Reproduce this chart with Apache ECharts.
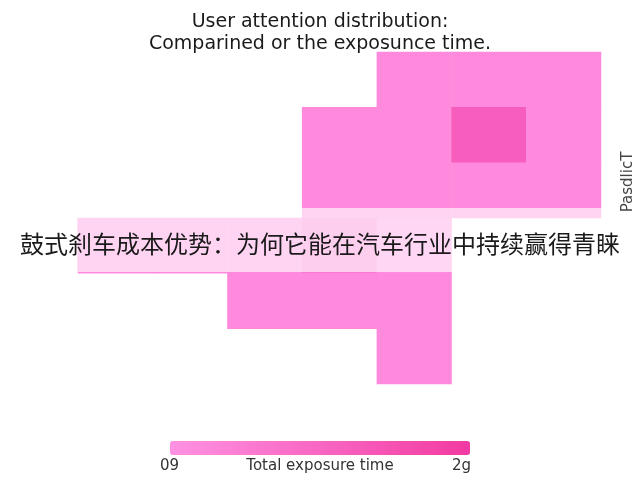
<!DOCTYPE html>
<html>
<head>
<meta charset="utf-8">
<script src="https://cdn.jsdelivr.net/npm/echarts@6/dist/echarts.min.js"></script>
<style>html,body{margin:0;padding:0;background:#fff}#c{width:640px;height:480px}</style>
</head>
<body>
<div id="c"></div>
<script>
const xCategories = ['C1','C2','C3','C4','C5','C6','C7'];
const yCategories = ['R1','R2','R3','R4','R5','R6'];
const row1 = [null, null, null, null, 1, 1, 1];
const row2 = [null, null, null, 1, 1, 6, 1];
const row3 = [null, null, null, 1, 1, 1, 1];
const row4 = [1, 1, 1, 3, 0.5, null, null];
const row5 = [null, null, 1, 1, 1, null, null];
const row6 = [null, null, null, null, 1, null, null];
const rows = [row1, row2, row3, row4, row5, row6];
const scaleMin = 0, scaleMax = 10;
const scaleLabels = ['09', '2g'];
const scaleName = 'Total exposure time';
const sideName = 'PasdlicT';
const titleText = 'User attention distribution:\nComparined or the exposunce time.';
const bannerText = '鼓式刹车成本优势：为何它能在汽车行业中持续赢得青睐';

const data = [];
rows.forEach((r, yi) => r.forEach((v, xi) => { if (v !== null) data.push([xi, yi, v]); }));

const chart = echarts.init(document.getElementById('c'));
chart.setOption({
  backgroundColor: '#fff',
  animation: false,
  title: {
    text: titleText, left: 'center', top: 6,
    textStyle: { fontFamily: 'DejaVu Sans', fontSize: 19, fontWeight: 'normal', color: '#1a1a1a', lineHeight: 22 }
  },
  grid: { left: 78, right: 39, top: 52, bottom: 96 },
  xAxis: { type: 'category', data: xCategories, show: false },
  yAxis: { type: 'category', data: yCategories, inverse: true, show: false },
  visualMap: {
    type: 'continuous', min: scaleMin, max: scaleMax, calculable: false,
    orient: 'horizontal', left: 155, top: 426, itemWidth: 14, itemHeight: 300,
    inRange: { color: ['#ff92e3', '#f23aa2'] },
    textStyle: { color: 'transparent' }
  },
  series: [{
    type: 'heatmap', data: data,
    itemStyle: { borderWidth: 0 },
    emphasis: { disabled: true }
  }],
  graphic: [
    { type: 'rect', z: 100, shape: { x: 78, y: 208, width: 525, height: 64 },
      style: { fill: 'rgba(255,255,255,0.64)' } },
    { type: 'text', z: 101, x: 320, y: 244,
      style: { text: bannerText, align: 'center', verticalAlign: 'middle',
        font: '24px "Noto Sans CJK SC"', fill: '#1a1a1a' } },
    { type: 'text', z: 101, x: 628, y: 182, rotation: Math.PI / 2,
      style: { text: sideName, align: 'center', verticalAlign: 'middle',
        font: '15px "DejaVu Sans"', fill: '#444' } },
    { type: 'text', z: 101, x: 160, y: 466,
      style: { text: scaleLabels[0], align: 'left', verticalAlign: 'middle',
        font: '15px "DejaVu Sans"', fill: '#333' } },
    { type: 'text', z: 101, x: 320, y: 466,
      style: { text: scaleName, align: 'center', verticalAlign: 'middle',
        font: '15px "DejaVu Sans"', fill: '#333' } },
    { type: 'text', z: 101, x: 471, y: 466,
      style: { text: scaleLabels[1], align: 'right', verticalAlign: 'middle',
        font: '15px "DejaVu Sans"', fill: '#333' } }
  ]
});
</script>
</body>
</html>
